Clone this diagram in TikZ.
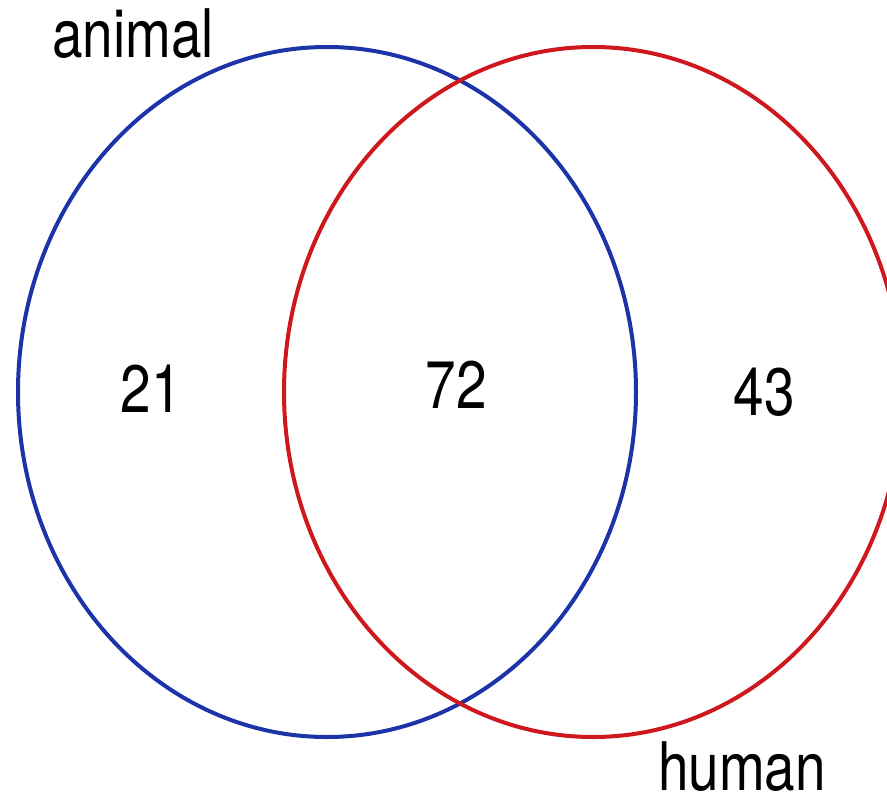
\documentclass[tikz,border=0pt]{standalone}
\usepackage{fontspec}
\setmainfont{TeX Gyre Heros}
\definecolor{setblue}{RGB}{28,52,168}
\definecolor{setred}{RGB}{206,24,30}
\tikzset{
  setline/.style={line width=4pt},
  lbl/.style={anchor=base, inner sep=0pt, font=\fontsize{67}{80}\selectfont},
}
\newcommand{\narrow}[1]{\scalebox{0.82}[1]{#1}}
\begin{document}
\begin{tikzpicture}[x=1pt,y=-1pt]
  \useasboundingbox (0,0) rectangle (887,795);
  \begin{scope}
    \clip (0,0) rectangle (887,795);
    \draw[setline, setblue] (327,392) ellipse [x radius=309, y radius=345];
    \draw[setline, setred] (593,392) ellipse [x radius=309, y radius=345];
  \end{scope}
  \node[lbl] (animal) at (133,57) {\narrow{animal}};
  \node[lbl] (human) at (742,790) {\narrow{human}};
  \node[lbl] (n21) at (151,412) {\narrow{21}};
  \node[lbl] (n72) at (456,408) {\narrow{72}};
  \node[lbl] (n43) at (764,415) {\narrow{43}};
\end{tikzpicture}
\end{document}
